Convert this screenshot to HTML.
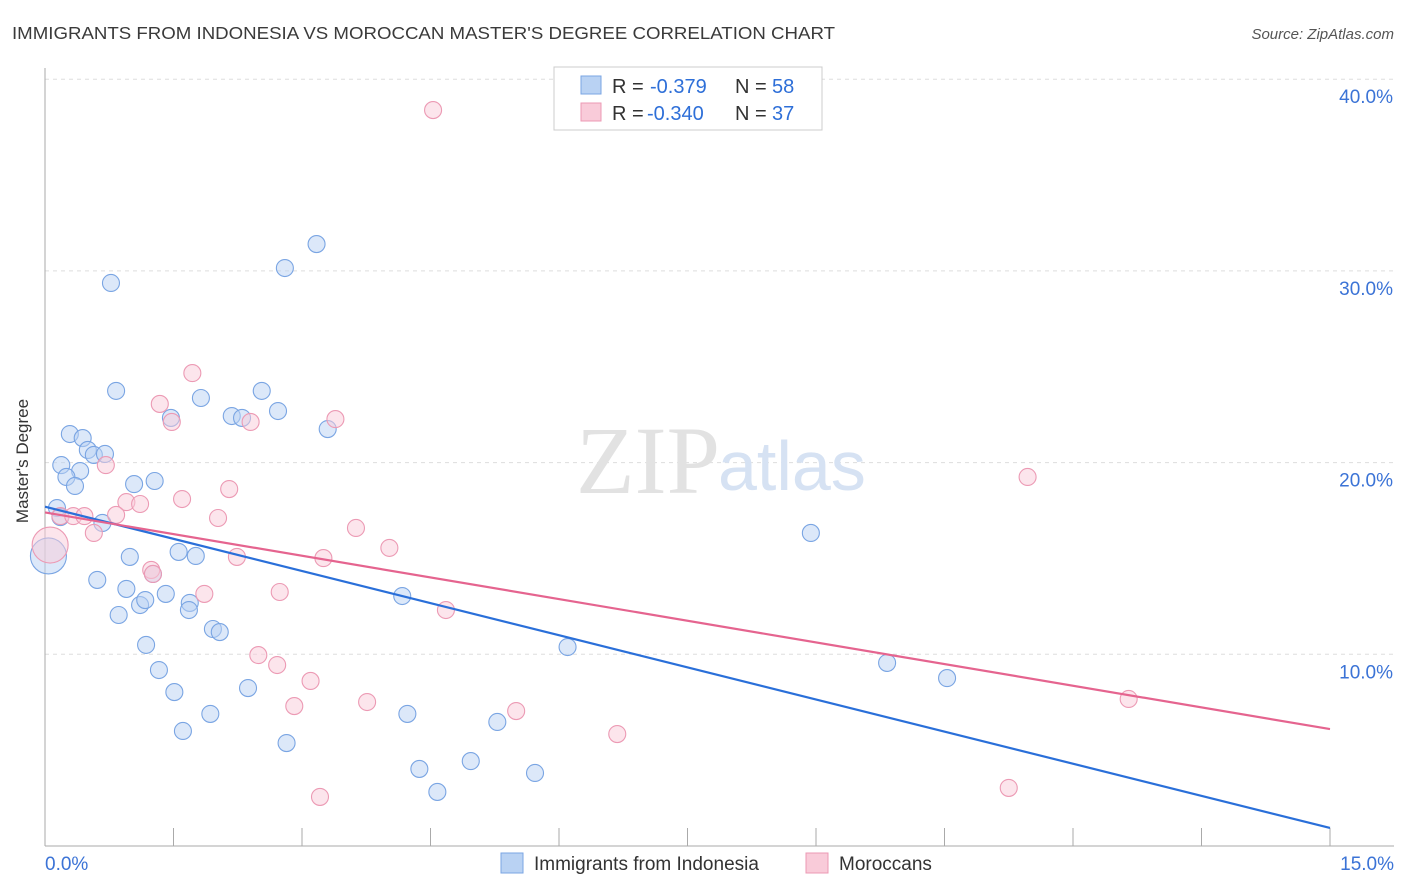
<!DOCTYPE html>
<html><head><meta charset="utf-8"><style>
body{margin:0;background:#fff;font-family:"Liberation Sans",sans-serif;}
svg{display:block}
</style></head><body>
<svg id="chart" width="1406" height="892">
<text x="12" y="39" font-size="17.5" fill="#3a3a3a" textLength="823" lengthAdjust="spacingAndGlyphs">IMMIGRANTS FROM INDONESIA VS MOROCCAN MASTER'S DEGREE CORRELATION CHART</text>
<text x="1394" y="39" font-size="15" fill="#555" text-anchor="end" font-style="italic">Source: ZipAtlas.com</text>
<text x="22" y="455" font-size="17" fill="#333" text-anchor="middle" transform="rotate(-90 28 455)">Master's Degree</text>
<g id="grid"></g>
<text x="720" y="493" font-size="96" fill="#e2e2e2" text-anchor="end" font-family="Liberation Serif,serif">ZIP</text>
<text x="718" y="490" font-size="70" fill="#d6e2f3">atlas</text>
<g id="axes"></g>
<g id="points"></g>
<g id="lines"></g>
<g>
<rect x="554" y="67" width="268" height="63" fill="#fff" stroke="#ccc"/>
<rect x="581" y="76" width="20" height="18" fill="#b9d2f3" stroke="#7aa5e3"/>
<rect x="581" y="103" width="20" height="18" fill="#f9cbd9" stroke="#ec9ab4"/>
<text y="93" font-size="20" fill="#333"><tspan x="612">R =</tspan><tspan x="650" fill="#2e6fd8">-0.379</tspan><tspan x="735">N =</tspan><tspan x="772" fill="#2e6fd8">58</tspan></text>
<text y="120" font-size="20" fill="#333"><tspan x="612">R =</tspan><tspan x="647" fill="#2e6fd8">-0.340</tspan><tspan x="735">N =</tspan><tspan x="772" fill="#2e6fd8">37</tspan></text>
</g>
<g>
<rect x="501" y="853" width="22" height="20" fill="#b9d2f3" stroke="#7aa5e3"/>
<text x="534" y="870" font-size="19" fill="#333">Immigrants from Indonesia</text>
<rect x="806" y="853" width="22" height="20" fill="#f9cbd9" stroke="#ec9ab4"/>
<text x="839" y="870" font-size="19" fill="#333">Moroccans</text>
</g>
</svg>
<script>
const xTicks=[0,15];
const yTicks=[10,20,30,40];
const blueX=[0.77,2.80,3.17,0.83,1.82,2.53,1.47,2.18,2.30,2.72,3.30,0.29,0.44,0.50,0.57,0.70,0.19,0.41,0.25,0.35,1.04,1.28,0.14,0.18,0.67,0.04,0.99,1.56,1.76,0.61,1.26,0.95,1.41,0.86,1.11,1.17,1.69,1.68,1.96,2.04,1.18,1.33,1.51,2.37,1.93,1.61,2.82,4.23,5.28,4.37,4.97,4.58,5.72,4.17,6.10,8.94,9.83,10.53];
const blueY=[29.37,30.15,31.40,23.74,23.37,23.74,22.33,22.43,22.33,22.69,21.75,21.49,21.28,20.66,20.40,20.45,19.87,19.56,19.25,18.78,18.88,19.04,17.63,17.16,16.85,15.13,15.08,15.34,15.13,13.88,14.19,13.41,13.15,12.05,12.57,12.83,12.68,12.31,11.32,11.16,10.49,9.18,8.03,8.24,6.89,6.00,5.37,6.89,6.47,4.02,4.43,2.82,3.81,13.04,10.38,16.33,9.55,8.76];
const pinkX=[4.53,1.72,1.34,1.48,2.40,3.39,0.71,2.15,0.95,1.11,1.60,0.18,0.33,0.46,0.57,0.83,2.02,3.63,4.02,2.24,3.25,1.24,1.26,1.86,2.74,4.68,2.49,2.71,3.10,2.91,3.76,5.50,6.68,3.21,11.47,12.65,11.25,0.06];
const pinkY=[38.39,24.67,23.06,22.12,22.12,22.27,19.87,18.62,17.94,17.84,18.10,17.21,17.21,17.21,16.33,17.27,17.11,16.59,15.55,15.08,15.02,14.40,14.19,13.15,13.25,12.31,9.96,9.44,8.61,7.30,7.51,7.04,5.84,2.56,19.25,7.67,3.03,15.70];
const blueTrend=[17.7,0.94];
const pinkTrend=[17.4,6.1];
const NS='http://www.w3.org/2000/svg';
const X0=45,X1=1330,Y0=846,PXY=19.17;
const sx=v=>X0+(X1-X0)*v/15;
const sy=v=>Y0-v*PXY;
function mk(t,a,p){const e=document.createElementNS(NS,t);for(const k in a)e.setAttribute(k,a[k]);p.appendChild(e);return e;}
const grid=document.getElementById('grid'),axes=document.getElementById('axes');
yTicks.forEach(t=>{
 const l=mk('line',{x1:45,x2:1394,y1:sy(t),y2:sy(t),stroke:'#ddd','stroke-dasharray':'4 4'},grid);
 
 
 const tx=mk('text',{x:1393,y:sy(t)+24,'font-size':19,fill:'#3b73d6','text-anchor':'end'},axes);
 tx.textContent=t.toFixed(1)+'%';
 
 
});
mk('line',{x1:45,x2:45,y1:68,y2:846,stroke:'#aaa'},axes);
mk('line',{x1:45,x2:1394,y1:846,y2:846,stroke:'#aaa'},axes);
for(let i=1;i<=10;i++){const x=45+i*128.5;mk('line',{x1:x,x2:x,y1:828,y2:846,stroke:'#aaa'},axes);}
xTicks.forEach((t,i)=>{
 const tx=mk('text',{x:i?1394:45,y:870,'font-size':19,fill:'#3b73d6','text-anchor':i?'end':'start'},axes);
 tx.textContent=t.toFixed(1)+'%';
 
 
});
const pts=document.getElementById('points');
function draw(xs,ys,fill,stroke,name){
 xs.forEach((x,i)=>{
  const big=(x<0.1);
  const c=mk('circle',{cx:sx(x),cy:sy(ys[i]),r:big?18:8.5,fill:fill,'fill-opacity':0.5,stroke:stroke,'stroke-width':1.1},pts);
  
  
 });
}
draw(blueX,blueY,'#b9d2f3','#7aa5e3','indonesia-point');
draw(pinkX,pinkY,'#f9cbd9','#ec9ab4','moroccan-point');
const lines=document.getElementById('lines');
const bl=mk('line',{x1:sx(0),y1:sy(blueTrend[0]),x2:sx(15),y2:sy(blueTrend[1]),stroke:'#2a6fd9','stroke-width':2.2},lines);


const pl=mk('line',{x1:sx(0),y1:sy(pinkTrend[0]),x2:sx(15),y2:sy(pinkTrend[1]),stroke:'#e5648f','stroke-width':2.2},lines);


</script>
</body></html>
